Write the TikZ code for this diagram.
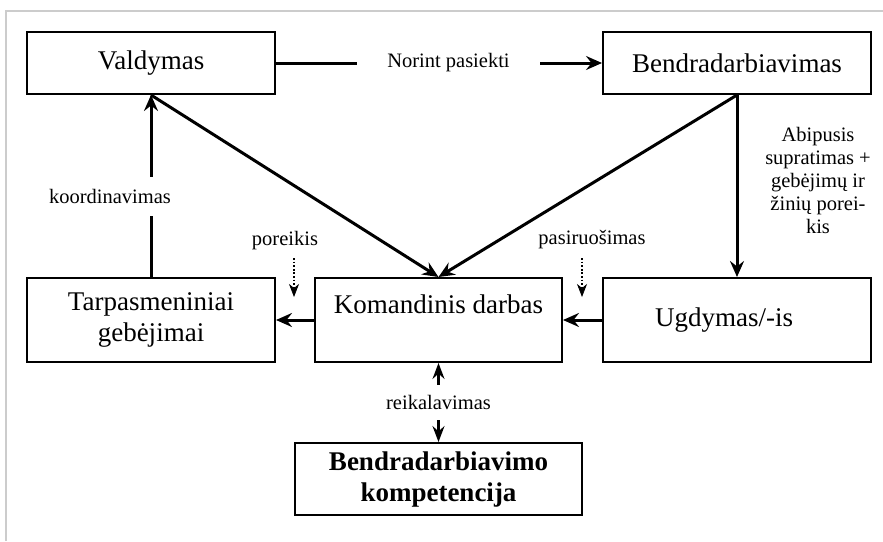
\documentclass[tikz,border=0pt]{standalone}
\usepackage{fontspec}
\setmainfont{Liberation Serif}
\usetikzlibrary{arrows.meta}
\begin{document}
\begin{tikzpicture}[x=1pt,y=-1pt,
  box/.style={draw, line width=2pt, rectangle, inner sep=0pt, align=center,
    font=\fontsize{27}{31}\selectfont},
  lbl/.style={inner sep=0pt, align=center, font=\fontsize{20.5}{23}\selectfont},
  gap/.style={fill=white, inner xsep=6pt, inner ysep=10pt},
  tip/.style={},
  flow/.style={line width=3pt, -{Stealth[length=16pt,width=14pt,inset=5.5pt]}},
  hint/.style={line width=1.4pt, dash pattern=on 1.8pt off 1.8pt,
    -{Stealth[length=13pt,width=10pt,inset=4pt,line width=0.8pt,sep=0pt]}},
  frame/.style={draw=black!20, line width=2pt}]
\useasboundingbox (0,0) rectangle (883,541);
% outer frame
\draw[frame] (6,541) -- (6,11) -- (883,11);

% boxes
\node[box, minimum width=248pt, minimum height=62pt] (val) at (151,63) {Valdymas};
\node[box, minimum width=268pt, minimum height=62pt] (ben) at (737,63) {Bendradarbiavimas};
\node[box, minimum width=248pt, minimum height=84pt] (tar) at (151,320) {Tarpasmeniniai\\gebėjimai};
\node[box, minimum width=247pt, minimum height=84pt] (kom) at (438.5,320) {Komandinis darbas\\\mbox{}};
\node[box, minimum width=268pt, minimum height=84pt] (ugd) at (737,320) {};
\node[font=\fontsize{27}{31}\selectfont, inner sep=0pt] (ugdt) at (724,320) {Ugdymas/-is};
\node[box, minimum width=287pt, minimum height=72pt, font=\fontsize{27}{31}\bfseries\selectfont]
  (bk) at (438.5,479) {Bendradarbiavimo\\kompetencija};

% top link
\draw[flow] (val.east) -- (ben.west)
  node[lbl, gap, inner xsep=30pt, pos=0.529] (np) {Norint pasiekti};

% diagonals into team work
\draw[flow] (val.south) -- (kom.north);
\draw[flow] (ben.south) -- (kom.north);

% right side
\draw[flow] (ben.south) -- (ugd.north);
\node[lbl] (abi) at (818,180) {Abipusis\\supratimas +\\gebėjimų ir\\žinių porei-\\kis};

% coordination
\draw[flow] (tar.north) -- (val.south);
\node[lbl, gap, inner xsep=0pt, inner ysep=12.5pt] (koord) at (110,196.5) {koordinavimas};

% horizontal arrows
\draw[flow] (kom.west) -- (tar.east);
\draw[flow] (ugd.west) -- (kom.east);

% dotted hints
\node[lbl] (por) at (285,241) {poreikis};
\coordinate (p1) at (294,258);
\coordinate (p2) at (294,297);
\draw[hint] (p1) -- (p2);
\node[lbl] (pas) at (592,240) {pasiruošimas};
\coordinate (q1) at (582,258);
\coordinate (q2) at (582,297);
\draw[hint] (q1) -- (q2);

% requirement
\draw[line width=2.5pt, {Stealth[length=16pt,width=12pt,inset=5.5pt]}-{Stealth[length=16pt,width=12pt,inset=5.5pt]}]
  (kom.south) -- (bk.north)
  node[lbl, gap, inner xsep=2pt, inner ysep=10pt, midway] (rk) {reikalavimas};
\end{tikzpicture}
\end{document}
